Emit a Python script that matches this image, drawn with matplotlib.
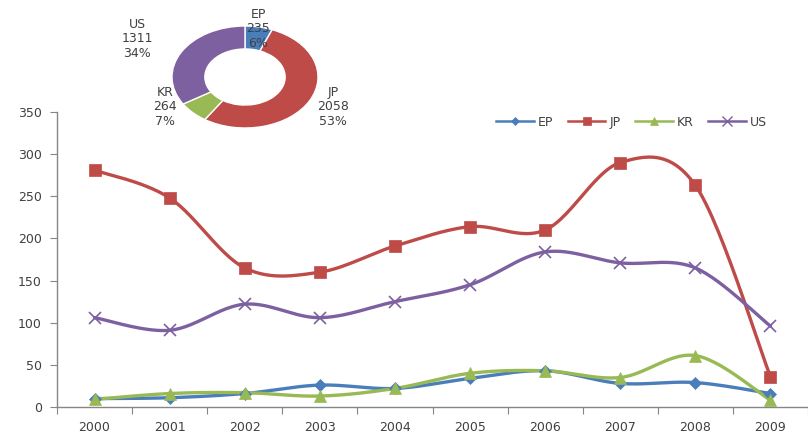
import numpy as np
import matplotlib
matplotlib.use("Agg")
import matplotlib.pyplot as plt
from matplotlib.lines import Line2D

# Yearly counts per office
years = ["2000", "2001", "2002", "2003", "2004", "2005", "2006", "2007", "2008", "2009"]
ep = [10, 11, 16, 26, 22, 34, 43, 28, 29, 16]
jp = [281, 248, 165, 160, 191, 214, 210, 290, 263, 36]
kr = [9, 16, 17, 13, 22, 40, 43, 35, 61, 8]
us = [106, 91, 122, 106, 125, 145, 184, 171, 165, 96]

names = ["EP", "JP", "KR", "US"]
series = [ep, jp, kr, us]
colors = ["#4A7EBB", "#BE4B48", "#98B954", "#7D60A0"]
markers = ["D", "s", "^", "x"]
msizes = [6, 8, 8, 9]

TEXT = "#404040"
AXIS = "#868686"


def smooth(xs, ys, n=30):
    """Bezier smoothing through every point (control points from neighbours, tension 1/6)."""
    pts = np.column_stack([xs, ys]).astype(float)
    out = []
    m = len(pts)
    for i in range(m - 1):
        p0 = pts[i - 1] if i > 0 else pts[i]
        p1 = pts[i]
        p2 = pts[i + 1]
        p3 = pts[i + 2] if i + 2 < m else pts[i + 1]
        c1 = p1 + (p2 - p0) / 6.0
        c2 = p2 - (p3 - p1) / 6.0
        t = np.linspace(0, 1, n)[:, None]
        seg = ((1 - t) ** 3) * p1 + 3 * ((1 - t) ** 2) * t * c1 + 3 * (1 - t) * t ** 2 * c2 + t ** 3 * p2
        out.append(seg if i == 0 else seg[1:])
    seg = np.vstack(out)
    return seg[:, 0], seg[:, 1]


fig = plt.figure(figsize=(8.08, 4.38), dpi=100)
plt.rcParams["font.family"] = ["DejaVu Sans"]

# ---- line chart ----
ax = fig.add_axes([57 / 808, 31 / 438, (808 - 57) / 808, (407 - 112) / 438])
x = np.arange(len(years))
draw_order = [3, 1, 0, 2]
for k in draw_order:
    sx, sy = smooth(x, series[k])
    ax.plot(sx, sy, color=colors[k], lw=2.4, solid_capstyle="round", zorder=2 + k * 0.1)
    mew = 1.2 if markers[k] == "x" else 0.5
    ax.plot(x, series[k], ls="none", marker=markers[k], ms=msizes[k], color=colors[k],
            mec=colors[k], mew=mew, zorder=3 + k * 0.1)

ax.set_xlim(-0.5, len(years) - 0.5)
ax.set_ylim(0, 350)
ax.set_yticks(np.arange(0, 351, 50))
ax.set_xticks(np.arange(-0.5, len(years), 1.0))
ax.set_xticklabels([])
ax.set_xticks(x, minor=True)
ax.set_xticklabels(years, minor=True)
ax.tick_params(axis="x", which="minor", length=0, pad=10, labelsize=9, labelcolor=TEXT)
ax.tick_params(axis="x", which="major", length=5, color=AXIS, direction="out")
ax.tick_params(axis="y", length=5, color=AXIS, labelsize=9, labelcolor=TEXT, pad=6)
for s in ["top", "right"]:
    ax.spines[s].set_visible(False)
for s in ["left", "bottom"]:
    ax.spines[s].set_color(AXIS)
    ax.spines[s].set_linewidth(1.0)
ax.patch.set_alpha(0)

handles = [Line2D([], [], color=colors[k], lw=1.8, marker=markers[k], ms=msizes[k] * 0.75,
                  mec=colors[k], mew=1.0 if markers[k] == "x" else 0.5)
           for k in range(4)]
leg = ax.legend(handles, names, loc="center left", bbox_to_anchor=(0.585, 0.965), ncol=4,
                frameon=False, fontsize=9, handlelength=3.0, columnspacing=1.2,
                handletextpad=0.3, labelcolor=TEXT, borderaxespad=0, borderpad=0)

# ---- donut of totals ----
totals = [sum(s) for s in series]
grand = sum(totals)
pax = fig.add_axes([(245 - 73) / 808, (438 - 128) / 438, 146 / 808, 102 / 438])
pax.pie(totals, colors=colors, startangle=90, counterclock=False,
        wedgeprops=dict(width=0.45, edgecolor="white", linewidth=1.0))
pax.set_aspect("auto")
pax.set_xlim(-1, 1)
pax.set_ylim(-1, 1)

label_pos = [(258, 29), (333, 107), (165, 107), (137, 39)]
for k in range(4):
    pct = round(100 * totals[k] / grand)
    lx, ly = label_pos[k]
    fig.text(lx / 808, 1 - ly / 438, f"{names[k]}\n{totals[k]}\n{pct}%", ha="center",
             va="center", fontsize=9, color=TEXT, linespacing=1.15)

fig.savefig("out.png", dpi=100)
